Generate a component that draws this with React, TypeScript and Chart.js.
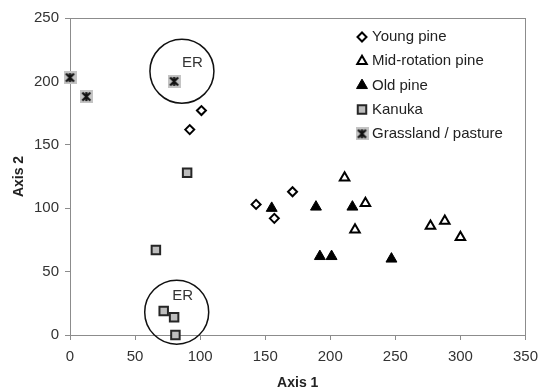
import React, { useEffect, useRef } from 'react';
import { Chart, registerables } from 'chart.js';
import { drawPoint } from 'chart.js/helpers';

Chart.register(...registerables);

// ---- data ----
const seriesLabels = ['Young pine', 'Mid-rotation pine', 'Old pine', 'Kanuka', 'Grassland / pasture'];

const youngPineX = [101, 92, 143, 157, 171];
const youngPineY = [177, 162, 103, 92, 113];

const midRotationX = [211, 227, 219, 277, 288, 300];
const midRotationY = [124, 104, 83, 86, 90, 77];

const oldPineX = [155, 189, 217, 192, 201, 247];
const oldPineY = [100, 101, 101, 62, 62, 60];

const kanukaX = [90, 66, 72, 80, 81];
const kanukaY = [128, 67, 19, 14, 0];

const grasslandX = [0, 12.5, 80];
const grasslandY = [203, 188, 200];

const xTicks = [0, 50, 100, 150, 200, 250, 300, 350];
const yTicks = [0, 50, 100, 150, 200, 250];

// ER circles (centre in data units) and their labels
const erCircleX = [86, 82];
const erCircleY = [208, 18];
const erLabelX = [94, 86.5];
const erLabelY = [215, 31];
const erLabelText = ['ER', 'ER'];

const FONT = '"Liberation Sans", Arial, Helvetica, sans-serif';

function toPoints(xs: number[], ys: number[]) {
  return xs.map((x, i) => ({ x, y: ys[i] }));
}

function makeStarMarker(): HTMLCanvasElement {
  const c = document.createElement('canvas');
  const s = 13;
  c.width = s;
  c.height = s;
  const g = c.getContext('2d')!;
  g.fillStyle = '#c4c4c4';
  g.fillRect(0, 0, s, s);
  g.strokeStyle = '#111';
  g.lineWidth = 2.2;
  g.lineCap = 'butt';
  g.beginPath();
  g.moveTo(2.5, 2.5);
  g.lineTo(10.5, 10.5);
  g.moveTo(10.5, 2.5);
  g.lineTo(2.5, 10.5);
  g.moveTo(6.5, 2);
  g.lineTo(6.5, 11);
  g.stroke();
  return c;
}

const framePlugin = {
  id: 'frame',
  beforeDatasetsDraw(chart: any) {
    const { ctx, chartArea: a } = chart;
    ctx.save();
    ctx.strokeStyle = '#8c8c8c';
    ctx.lineWidth = 1;
    ctx.strokeRect(Math.round(a.left) + 0.5, Math.round(a.top) + 0.5, Math.round(a.right - a.left), Math.round(a.bottom - a.top));
    ctx.restore();
  },
};

const erPlugin = {
  id: 'erCircles',
  afterDatasetsDraw(chart: any) {
    const { ctx, scales } = chart;
    const xs = scales.x;
    const ys = scales.y;
    ctx.save();
    ctx.strokeStyle = '#111';
    ctx.lineWidth = 1.5;
    erCircleX.forEach((cx, i) => {
      ctx.beginPath();
      ctx.arc(xs.getPixelForValue(cx), ys.getPixelForValue(erCircleY[i]), 32, 0, Math.PI * 2);
      ctx.stroke();
    });
    ctx.fillStyle = '#333';
    ctx.font = `15px ${FONT}`;
    ctx.textAlign = 'center';
    ctx.textBaseline = 'middle';
    erLabelX.forEach((lx, i) => {
      ctx.fillText(erLabelText[i], xs.getPixelForValue(lx), ys.getPixelForValue(erLabelY[i]));
    });
    ctx.restore();
  },
};

const LEGEND_X = 362;
const LEGEND_TOP = 37;
const LEGEND_STEP = 24.2;

const legendPlugin = {
  id: 'customLegend',
  afterDraw(chart: any) {
    const { ctx } = chart;
    chart.data.datasets.forEach((ds: any, i: number) => {
      const y = LEGEND_TOP + i * LEGEND_STEP;
      ctx.save();
      ctx.fillStyle = ds.backgroundColor;
      ctx.strokeStyle = ds.borderColor;
      ctx.lineWidth = ds.borderWidth;
      drawPoint(ctx, { pointStyle: ds.pointStyle, radius: ds.pointRadius, borderWidth: ds.borderWidth, rotation: 0 } as any, LEGEND_X, y);
      ctx.fillStyle = '#222';
      ctx.font = `15px ${FONT}`;
      ctx.textAlign = 'left';
      ctx.textBaseline = 'middle';
      ctx.fillText(ds.label, LEGEND_X + 10, y);
      ctx.restore();
    });
  },
};

export default function App() {
  const ref = useRef<HTMLCanvasElement>(null);

  useEffect(() => {
    document.body.style.margin = '0';
    const star = makeStarMarker();
    const chart = new Chart(ref.current!, {
      type: 'scatter',
      data: {
        datasets: [
          {
            label: seriesLabels[0],
            data: toPoints(youngPineX, youngPineY),
            pointStyle: 'rectRot',
            pointRadius: 4.5,
            borderWidth: 2,
            backgroundColor: '#ffffff',
            borderColor: '#000000',
            clip: false,
          },
          {
            label: seriesLabels[1],
            data: toPoints(midRotationX, midRotationY),
            pointStyle: 'triangle',
            pointRadius: 5.5,
            borderWidth: 2,
            backgroundColor: '#ffffff',
            borderColor: '#000000',
            clip: false,
          },
          {
            label: seriesLabels[2],
            data: toPoints(oldPineX, oldPineY),
            pointStyle: 'triangle',
            pointRadius: 6.3,
            borderWidth: 1,
            backgroundColor: '#000000',
            borderColor: '#000000',
            clip: false,
          },
          {
            label: seriesLabels[3],
            data: toPoints(kanukaX, kanukaY),
            pointStyle: 'rect',
            pointRadius: 6,
            borderWidth: 2,
            backgroundColor: '#bdbdbd',
            borderColor: '#262626',
            clip: false,
          },
          {
            label: seriesLabels[4],
            data: toPoints(grasslandX, grasslandY),
            pointStyle: star as any,
            pointRadius: 6.5,
            borderWidth: 0,
            backgroundColor: '#c4c4c4',
            borderColor: '#111',
            clip: false,
          },
        ] as any,
      },
      options: {
        responsive: false,
        animation: false,
        layout: { padding: { top: 18, right: 14, left: 0, bottom: 0 } },
        plugins: { legend: { display: false }, tooltip: { enabled: false } },
        scales: {
          x: {
            type: 'linear',
            min: 0,
            max: 350,
            afterBuildTicks: (s: any) => {
              s.ticks = xTicks.map((v) => ({ value: v }));
            },
            afterFit: (s: any) => {
              s.height = 55;
            },
            border: { display: false },
            grid: { drawOnChartArea: false, drawTicks: true, tickLength: 5, color: '#8c8c8c' },
            ticks: { color: '#333', font: { family: FONT, size: 15 }, padding: 8, maxRotation: 0 },
            title: {
              display: true,
              text: 'Axis 1',
              color: '#222',
              font: { family: FONT, size: 14, weight: 'bold', lineHeight: 1 },
              padding: { top: 0, bottom: 0 },
            },
          },
          y: {
            type: 'linear',
            min: 0,
            max: 250,
            afterBuildTicks: (s: any) => {
              s.ticks = yTicks.map((v) => ({ value: v }));
            },
            afterFit: (s: any) => {
              s.width = 70;
            },
            border: { display: false },
            grid: { drawOnChartArea: false, drawTicks: true, tickLength: 5, color: '#8c8c8c' },
            ticks: { color: '#333', font: { family: FONT, size: 15 }, padding: 6 },
            title: {
              display: true,
              text: 'Axis 2',
              color: '#222',
              font: { family: FONT, size: 14, weight: 'bold', lineHeight: 1 },
              padding: { top: 12, bottom: 0 },
            },
          },
        },
      } as any,
      plugins: [framePlugin, erPlugin, legendPlugin],
    });
    return () => chart.destroy();
  }, []);

  return (
    <div style={{ width: 546, height: 390 }}>
      <canvas ref={ref} width={546} height={390} />
    </div>
  );
}
